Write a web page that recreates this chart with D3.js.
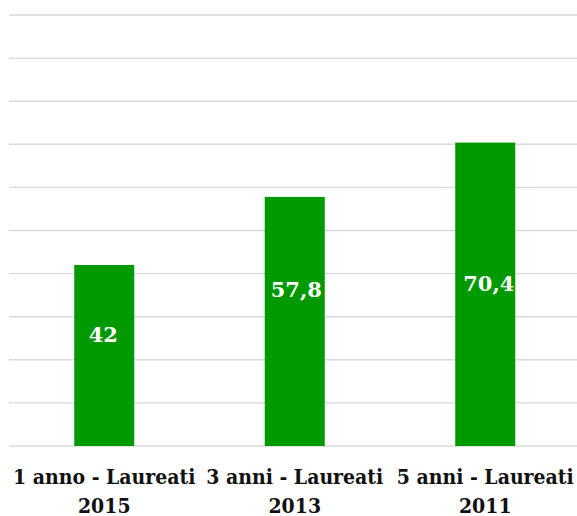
<!DOCTYPE html>
<html>
<head>
<meta charset="utf-8">
<script src="https://cdn.jsdelivr.net/npm/d3@7"></script>
<style>
  html, body { margin: 0; padding: 0; background: #ffffff; }
  svg { display: block; }
</style>
</head>
<body>
<svg id="chart" width="577" height="516"></svg>
<script>
// Data
const categories = [["1 anno - Laureati", "2015"], ["3 anni - Laureati", "2013"], ["5 anni - Laureati", "2011"]];
const values = [42, 57.8, 70.4];
const valueLabels = ["42", "57,8", "70,4"];
const gridTicks = [0, 10, 20, 30, 40, 50, 60, 70, 80, 90, 100];

// Label nudges relative to the bar's vertical middle (px)
const labelNudgeY = [-13.5, -24.5, -3.5];
const labelNudgeX = [-1, 1.5, 3.5];

const svg = d3.select("#chart");
const plotLeft = 9, plotRight = 580.5, plotTop = 15, plotBottom = 446;

const x = d3.scaleBand()
  .domain(d3.range(categories.length))
  .range([plotLeft, plotRight])
  .paddingInner(0.685)
  .paddingOuter(0.3425);

const y = d3.scaleLinear().domain([0, 100]).range([plotBottom, plotTop]);

// Horizontal gridlines
svg.append("g")
  .selectAll("line")
  .data(gridTicks)
  .join("line")
  .attr("x1", plotLeft)
  .attr("x2", 577)
  .attr("y1", d => y(d))
  .attr("y2", d => y(d))
  .attr("stroke", "#d9d9d9")
  .attr("stroke-width", 1.4);

// Bars
svg.append("g")
  .selectAll("rect")
  .data(values)
  .join("rect")
  .attr("x", (d, i) => x(i))
  .attr("y", d => y(d))
  .attr("width", x.bandwidth())
  .attr("height", d => y(0) - y(d))
  .attr("fill", "#009900");

// Value labels inside the bars
svg.append("g")
  .selectAll("text")
  .data(values)
  .join("text")
  .attr("x", (d, i) => x(i) + x.bandwidth() / 2 + labelNudgeX[i])
  .attr("y", (d, i) => (y(d) + y(0)) / 2 + labelNudgeY[i])
  .attr("text-anchor", "middle")
  .attr("font-family", "'DejaVu Serif', serif")
  .attr("font-weight", "bold")
  .attr("font-size", 21)
  .attr("fill", "#ffffff")
  .text((d, i) => valueLabels[i]);

// Category labels (two lines each)
const cat = svg.append("g")
  .selectAll("text")
  .data(categories)
  .join("text")
  .attr("text-anchor", "middle")
  .attr("font-family", "'DejaVu Serif Condensed', 'DejaVu Serif', serif")
  .style("font-stretch", "condensed")
  .attr("font-weight", "bold")
  .attr("font-size", 21)
  .attr("fill", "#111111");

cat.selectAll("tspan")
  .data((d, i) => d.map(t => ({ t, i })))
  .join("tspan")
  .attr("x", d => x(d.i) + x.bandwidth() / 2)
  .attr("y", (d, j) => 484 + j * 28.5)
  .text(d => d.t);
</script>
</body>
</html>
